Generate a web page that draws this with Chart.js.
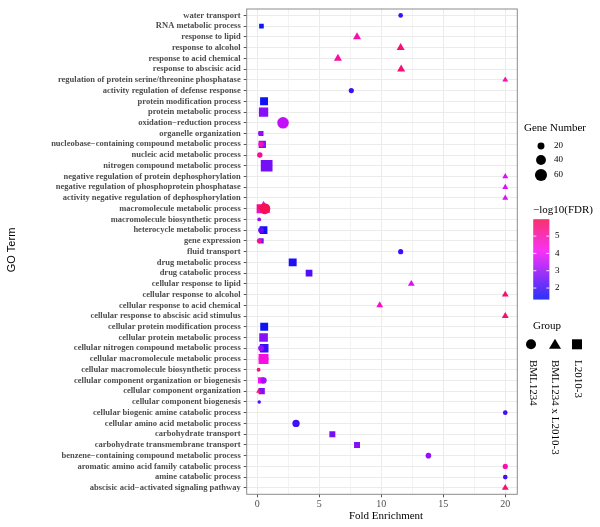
<!DOCTYPE html>
<html><head><meta charset="utf-8">
<script src="https://cdn.jsdelivr.net/npm/chart.js@4/dist/chart.umd.min.js"></script>
<style>html,body{margin:0;padding:0;background:#fff}</style>
</head><body>
<canvas id="c" width="600" height="527"></canvas>
<script>
const categories = [
 "water transport","RNA metabolic process","response to lipid","response to alcohol",
 "response to acid chemical","response to abscisic acid",
 "regulation of protein serine/threonine phosphatase","activity regulation of defense response",
 "protein modification process","protein metabolic process","oxidation\u2212reduction process",
 "organelle organization","nucleobase\u2212containing compound metabolic process",
 "nucleic acid metabolic process","nitrogen compound metabolic process",
 "negative regulation of protein dephosphorylation","negative regulation of phosphoprotein phosphatase",
 "activity negative regulation of dephosphorylation","macromolecule metabolic process",
 "macromolecule biosynthetic process","heterocycle metabolic process","gene expression",
 "fluid transport","drug metabolic process","drug catabolic process","cellular response to lipid",
 "cellular response to alcohol","cellular response to acid chemical",
 "cellular response to abscisic acid stimulus","cellular protein modification process",
 "cellular protein metabolic process","cellular nitrogen compound metabolic process",
 "cellular macromolecule metabolic process","cellular macromolecule biosynthetic process",
 "cellular component organization or biogenesis","cellular component organization",
 "cellular component biogenesis","cellular biogenic amine catabolic process",
 "cellular amino acid metabolic process","carbohydrate transport",
 "carbohydrate transmembrane transport","benzene\u2212containing compound metabolic process",
 "aromatic amino acid family catabolic process","amine catabolic process",
 "abscisic acid\u2212activated signaling pathway"
];
const xTicks = [0, 5, 10, 15, 20];
const groupNames = ["BML1234", "BML1234 x L2010-3", "L2010-3"];
const sizeBreaks = [20, 40, 60];
const fdrBreaks = [2, 3, 4, 5];

// BML1234 (circles)
const bmlTerms = ["water transport","activity regulation of defense response","oxidation\u2212reduction process",
 "organelle organization","nucleobase\u2212containing compound metabolic process","nucleic acid metabolic process",
 "macromolecule metabolic process","macromolecule biosynthetic process","heterocycle metabolic process",
 "gene expression","fluid transport","cellular nitrogen compound metabolic process",
 "cellular macromolecule metabolic process","cellular macromolecule biosynthetic process",
 "cellular component organization or biogenesis","cellular component biogenesis",
 "cellular biogenic amine catabolic process","cellular amino acid metabolic process",
 "benzene\u2212containing compound metabolic process","aromatic amino acid family catabolic process",
 "amine catabolic process"];
const bmlFold  = [11.56, 7.58, 2.07, 0.25, 0.3, 0.2, 0.6, 0.15, 0.3, 0.15, 11.56, 0.3, 0.5, 0.1, 0.5, 0.15, 20, 3.12, 13.8, 20, 20];
const bmlGenes = [9, 11, 55, 10, 12, 12, 50, 6, 14, 10, 11, 14, 40, 6, 16, 5, 9, 22, 13, 11, 9];
const bmlFdr   = [2.0, 2.0, 3.5, 3.0, 4.8, 5.3, 5.97, 3.0, 2.3, 5.2, 2.0, 3.0, 4.4, 5.5, 3.2, 2.1, 2.0, 2.0, 3.0, 4.9, 2.0];

// BML1234 x L2010-3 (triangles)
const crossTerms = ["response to lipid","response to alcohol","response to acid chemical","response to abscisic acid",
 "regulation of protein serine/threonine phosphatase","negative regulation of protein dephosphorylation",
 "negative regulation of phosphoprotein phosphatase","activity negative regulation of dephosphorylation",
 "macromolecule metabolic process","cellular response to lipid","cellular response to alcohol",
 "cellular response to acid chemical","cellular response to abscisic acid stimulus",
 "cellular component organization","abscisic acid\u2212activated signaling pathway"];
const crossFold  = [8.04, 11.56, 6.5, 11.6, 20, 20, 20, 20, 0.5, 12.42, 20, 9.87, 20, 0.1, 20];
const crossGenes = [22, 22, 22, 22, 12, 12, 12, 12, 65, 16, 16, 16, 16, 8, 16];
const crossFdr   = [5.0, 5.6, 5.1, 5.6, 4.9, 3.8, 3.8, 3.8, 3.9, 3.8, 5.6, 4.7, 5.6, 5.5, 5.6];

// L2010-3 (squares)
const lTerms = ["RNA metabolic process","protein modification process","protein metabolic process",
 "organelle organization","nucleobase\u2212containing compound metabolic process","nitrogen compound metabolic process",
 "macromolecule metabolic process","heterocycle metabolic process","gene expression","drug metabolic process",
 "drug catabolic process","cellular protein modification process","cellular protein metabolic process",
 "cellular nitrogen compound metabolic process","cellular macromolecule metabolic process",
 "cellular component organization or biogenesis","cellular component organization",
 "carbohydrate transport","carbohydrate transmembrane transport"];
const lFold  = [0.33, 0.54, 0.5, 0.3, 0.4, 0.75, 0.3, 0.5, 0.3, 2.85, 4.17, 0.55, 0.5, 0.55, 0.5, 0.3, 0.35, 6.05, 8.04];
const lGenes = [11, 32, 44, 12, 27, 70, 40, 30, 14, 32, 23, 32, 38, 38, 50, 20, 20, 18, 18];
const lFdr   = [1.35, 1.4, 2.8, 2.7, 2.8, 2.6, 5.4, 1.5, 2.7, 1.6, 2.2, 1.4, 2.8, 1.9, 4.3, 4.1, 2.8, 2.6, 2.8];

// ---------- colour scale (hue sweep blue -> pink) ----------
const HUE_LOW = 238, HUE_HIGH = 342, SAT = 0.94, VAL = 0.97;
const allFdr=[...bmlFdr,...crossFdr,...lFdr];
const FMIN=Math.min(...allFdr), FMAX=Math.max(...allFdr);
function hsv(h,s,v){
  const f=n=>{const k=(n+h/60)%6; return v - v*s*Math.max(0, Math.min(k, 4-k, 1));};
  return [f(5),f(3),f(1)].map(c=>Math.round(c*255));
}
function fdrColor(val){
  const t=(val-FMIN)/(FMAX-FMIN);
  const c=hsv(HUE_LOW+(HUE_HIGH-HUE_LOW)*t, SAT, VAL);
  return `rgb(${c[0]},${c[1]},${c[2]})`;
}
const rOf = n => 0.78*Math.sqrt(n);
const SHAPE_K = 1.27;

function mk(label, terms, fold, genes, fdr, style, k){
  return {
    label, pointStyle: style,
    data: terms.map((t,i)=>({x: fold[i], y: categories.indexOf(t)})),
    pointRadius: genes.map(g=>rOf(g)*k),
    pointHoverRadius: genes.map(g=>rOf(g)*k),
    backgroundColor: fdr.map(fdrColor),
    borderColor: fdr.map(fdrColor),
    pointBorderWidth: 0, borderWidth: 0, showLine: false
  };
}

const PL=246.7, PR=517.3, PT=9, PB=494.3;
const SERIF='"Liberation Serif", "Times New Roman", serif';

const deco = {
  id:'deco',
  afterDatasetsDraw(chart){
    const ctx=chart.ctx, a=chart.chartArea;
    ctx.save();
    ctx.strokeStyle='#8c8c8c'; ctx.lineWidth=1;
    ctx.strokeRect(a.left, a.top, a.right-a.left, a.bottom-a.top);
    ctx.restore();
  },
  afterDraw(chart){
    const ctx=chart.ctx, a=chart.chartArea;
    ctx.save();
    ctx.fillStyle='#000';
    ctx.font='11px '+SERIF; ctx.textAlign='center'; ctx.textBaseline='middle';
    ctx.fillText('Fold Enrichment', (a.left+a.right)/2+4, 516);
    ctx.save(); ctx.translate(12, 250); ctx.rotate(-Math.PI/2);
    ctx.font='11px "Liberation Sans", Arial, sans-serif';
    ctx.fillText('GO Term', 0, 0); ctx.restore();

    ctx.textAlign='left';
    ctx.font='11px '+SERIF; ctx.fillText('Gene Number', 524, 128);
    const gy=[146,160,175];
    sizeBreaks.forEach((n,i)=>{
      ctx.beginPath(); ctx.arc(541, gy[i], rOf(n), 0, Math.PI*2); ctx.fillStyle='#000'; ctx.fill();
      ctx.font='9px '+SERIF; ctx.fillText(String(n), 554, gy[i]);
    });

    ctx.font='11px '+SERIF; ctx.fillText('\u2212log10(FDR)', 533, 210);
    const bx=533.3, bw=16, bt=219.3, bh=80;
    for(let i=0;i<bh;i++){
      const v=FMAX-(i+0.5)/bh*(FMAX-FMIN);
      ctx.fillStyle=fdrColor(v); ctx.fillRect(bx, bt+i, bw, 1.2);
    }
    ctx.strokeStyle='rgba(255,255,255,0.9)'; ctx.lineWidth=1;
    ctx.font='9px '+SERIF; ctx.fillStyle='#000';
    fdrBreaks.forEach(v=>{
      const y=bt+(FMAX-v)/(FMAX-FMIN)*bh;
      ctx.beginPath(); ctx.moveTo(bx,y); ctx.lineTo(bx+3,y); ctx.moveTo(bx+bw-3,y); ctx.lineTo(bx+bw,y); ctx.stroke();
      ctx.fillText(String(v), 555, y);
    });

    ctx.font='11px '+SERIF; ctx.fillText('Group', 533, 326);
    const sy=344.3;
    ctx.fillStyle='#000';
    ctx.beginPath(); ctx.arc(531, sy, 5, 0, Math.PI*2); ctx.fill();
    ctx.beginPath(); ctx.moveTo(555, sy-5.5); ctx.lineTo(561, sy+4.5); ctx.lineTo(549, sy+4.5); ctx.closePath(); ctx.fill();
    ctx.fillRect(572, sy-5, 10, 10);
    const gx=[532.7, 555, 578];
    groupNames.forEach((g,i)=>{
      ctx.save(); ctx.translate(gx[i], 360); ctx.rotate(Math.PI/2);
      ctx.textAlign='left'; ctx.textBaseline='middle'; ctx.font='11px '+SERIF;
      ctx.fillText(g, 0, 0); ctx.restore();
    });
    ctx.restore();
  }
};

new Chart(document.getElementById('c'), {
  type: 'scatter',
  data: { datasets: [
    mk(groupNames[0], bmlTerms, bmlFold, bmlGenes, bmlFdr, 'circle', 1),
    mk(groupNames[1], crossTerms, crossFold, crossGenes, crossFdr, 'triangle', SHAPE_K),
    mk(groupNames[2], lTerms, lFold, lGenes, lFdr, 'rect', SHAPE_K)
  ]},
  options: {
    responsive: false, animation: false, devicePixelRatio: 1,
    layout: { padding: { top: PT, right: 600-PR, bottom: 0, left: 0 } },
    plugins: { legend: { display: false }, tooltip: { enabled: false } },
    scales: {
      x: {
        type: 'linear', min: -0.86, max: 20.97,
        afterBuildTicks: s => { s.ticks = [0,2.5,5,7.5,10,12.5,15,17.5,20].map(v=>({value:v})); },
        afterFit: s => { s.height = 527-PB; },
        ticks: { autoSkip: false, maxRotation: 0, padding: 1, color: '#4d4d4d',
          font: { family: SERIF, size: 10 },
          callback: v => xTicks.includes(v) ? String(v) : '' },
        grid: { color: '#ebebeb', lineWidth: c => (c.tick && xTicks.includes(c.tick.value)) ? 1 : 0.6,
          tickLength: 3, tickColor: c => (c.tick && xTicks.includes(c.tick.value)) ? '#555' : 'rgba(0,0,0,0)' },
        border: { display: false }
      },
      y: {
        type: 'linear', reverse: true, min: -0.6, max: categories.length-0.4,
        afterBuildTicks: s => { s.ticks = categories.map((_,i)=>({value:i})); },
        afterFit: s => { s.width = PL; },
        ticks: { autoSkip: false, padding: 3, color: '#4d4d4d',
          font: { family: SERIF, size: 8.5, weight: 'bold' },
          callback: v => categories[v] },
        grid: { color: '#ebebeb', lineWidth: 1, tickLength: 3, tickColor: '#555' },
        border: { display: false }
      }
    }
  },
  plugins: [deco]
});
</script>
</body></html>
